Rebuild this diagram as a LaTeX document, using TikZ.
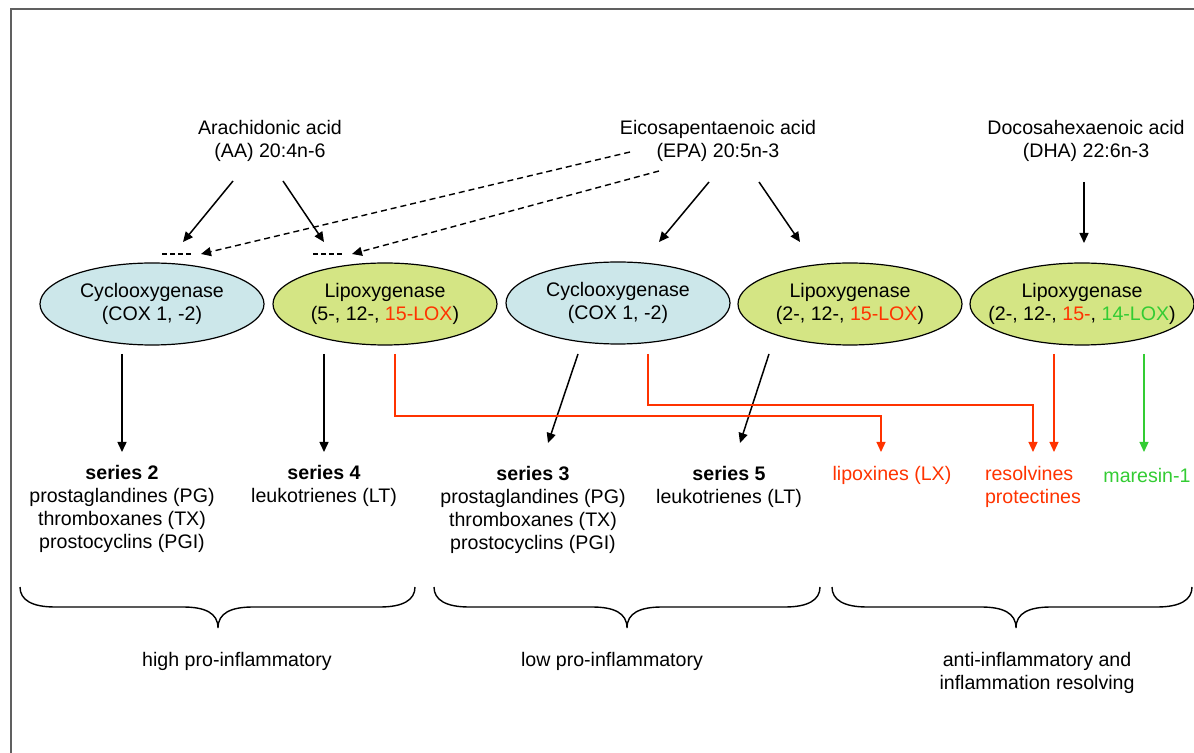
\documentclass[tikz,border=0pt]{standalone}
\usepackage{fontspec}
\setmainfont{Liberation Sans}
\usetikzlibrary{shapes.geometric,arrows.meta}
\definecolor{coxfill}{RGB}{204,231,234}
\definecolor{loxfill}{RGB}{212,229,132}
\definecolor{redx}{RGB}{255,51,0}
\definecolor{greenx}{RGB}{51,204,51}
\definecolor{framegray}{RGB}{96,96,96}
\begin{document}
\begin{tikzpicture}[x=0.5pt,y=-0.5pt,
  font=\fontsize{9.8}{11.5}\selectfont,
  txt/.style={align=center,inner sep=0pt},
  enz/.style={ellipse,draw=black,line width=0.6pt,minimum width=112pt,minimum height=41pt,inner sep=0pt,align=center},
  cox/.style={enz,fill=coxfill},
  lox/.style={enz,fill=loxfill},
  tip/.style={-{Triangle[length=5pt,width=4.5pt]}},
  blk/.style={line width=0.75pt,tip},
  dsh/.style={line width=0.7pt,dash pattern=on 3pt off 2pt,tip},
  stub/.style={line width=0.7pt,dash pattern=on 2.5pt off 1.5pt},
  rline/.style={redx,line width=0.6pt,tip},
  gline/.style={greenx,line width=0.6pt,tip},
  bracepath/.style={line width=0.7pt},
]
\useasboundingbox (0,0) rectangle (1194,753);
\draw[framegray,line width=1pt] (1194,9.5) -- (10.5,9.5) -- (10.5,753);

% sources
\node[txt] (aa) at (270,141) {Arachidonic acid\\(AA) 20:4n-6};
\node[txt] (epa) at (718,141) {Eicosapentaenoic acid\\(EPA) 20:5n-3};
\node[txt] (dha) at (1086,141) {Docosahexaenoic acid\\(DHA) 22:6n-3};

% enzymes
\node[cox] (cox1) at (152,304) {Cyclooxygenase\\(COX 1, -2)};
\node[lox] (lox1) at (385,304) {Lipoxygenase\\(5-, 12-, \textcolor{redx}{15-LOX})};
\node[cox] (cox2) at (618,303) {Cyclooxygenase\\(COX 1, -2)};
\node[lox] (lox2) at (850,304) {Lipoxygenase\\(2-, 12-, \textcolor{redx}{15-LOX})};
\node[lox] (lox3) at (1082,304) {Lipoxygenase\\\makebox[0pt]{(2-, 12-, \textcolor{redx}{15-}, \textcolor{greenx}{14-LOX})}};

% products
\node[txt] (s2) at (122,509) {\textbf{series 2}\\prostaglandines (PG)\\thromboxanes (TX)\\prostocyclins (PGI)};
\node[txt] (s4) at (324,486) {\textbf{series 4}\\leukotrienes (LT)};
\node[txt] (s3) at (533,510) {\textbf{series 3}\\prostaglandines (PG)\\thromboxanes (TX)\\prostocyclins (PGI)};
\node[txt] (s5) at (729,487) {\textbf{series 5}\\leukotrienes (LT)};
\node[txt,text=redx] (lx) at (892,475) {lipoxines (LX)};
\node[txt,text=redx,align=left] (rv) at (1033,487) {resolvines\\protectines};
\node[txt,text=greenx] (mar) at (1147,475) {maresin-1};

% coordinates
\coordinate (aaL0) at (233,181); \coordinate (aaL1) at (183,242);
\coordinate (aaR0) at (283,181); \coordinate (aaR1) at (324,242);
\coordinate (epL0) at (709,182); \coordinate (epL1) at (659,242);
\coordinate (epR0) at (759,182); \coordinate (epR1) at (800,242);
\coordinate (dh0) at (1084,182); \coordinate (dh1) at (1084,243);
\coordinate (st1a) at (162,254); \coordinate (st1b) at (194,254);
\coordinate (st2a) at (313,254); \coordinate (st2b) at (345,254);
\coordinate (ep1) at (630,152); \coordinate (ep1e) at (201,254);
\coordinate (ep2) at (659,171); \coordinate (ep2e) at (352,254);

% arrows to enzymes
\draw[blk] (aaL0) -- (aaL1);
\draw[blk] (aaR0) -- (aaR1);
\draw[blk] (epL0) -- (epL1);
\draw[blk] (epR0) -- (epR1);
\draw[blk] (dh0) -- (dh1);
\draw[stub] (st1a) -- (st1b);
\draw[stub] (st2a) -- (st2b);
\draw[dsh] (ep1) -- (ep1e);
\draw[dsh] (ep2) -- (ep2e);

% arrows to products
\coordinate (c1a) at (122,354); \coordinate (c1b) at (122,452);
\coordinate (l1a) at (324,354); \coordinate (l1b) at (324,452);
\coordinate (c2a) at (578,354); \coordinate (c2b) at (548,443);
\coordinate (l2a) at (769,354); \coordinate (l2b) at (740,443);
\draw[blk] (c1a) -- (c1b);
\draw[blk] (l1a) -- (l1b);
\draw[blk] (c2a) -- (c2b);
\draw[blk] (l2a) -- (l2b);

\coordinate (r1a) at (395,354); \coordinate (r1b) at (881,452);
\coordinate (r2a) at (648,354); \coordinate (r2b) at (1033,452);
\coordinate (r3a) at (1054,354); \coordinate (r3b) at (1054,452);
\coordinate (g1a) at (1144,354); \coordinate (g1b) at (1144,452);
\draw[rline] (r1a) -- ++(0,62) -| (r1b);
\draw[rline] (r2a) -- ++(0,51) -| (r2b);
\draw[rline] (r3a) -- (r3b);
\draw[gline] (g1a) -- (g1b);

% braces
\draw[bracepath] (20,587) .. controls (20,600) and (32,607) .. (55,607) -- (183,607) .. controls (205,607) and (218,613) .. (218,628) .. controls (218,613) and (231,607) .. (253,607) -- (380,607) .. controls (403,607) and (415,600) .. (415,587);
\draw[bracepath] (434,587) .. controls (434,600) and (446,607) .. (469,607) -- (592,607) .. controls (614,607) and (627,613) .. (627,628) .. controls (627,613) and (640,607) .. (662,607) -- (785,607) .. controls (808,607) and (820,600) .. (820,587);
\draw[bracepath] (832,587) .. controls (832,600) and (844,607) .. (867,607) -- (981,607) .. controls (1003,607) and (1016,613) .. (1016,628) .. controls (1016,613) and (1029,607) .. (1051,607) -- (1157,607) .. controls (1180,607) and (1192,600) .. (1192,587);

\node[txt] (hi) at (237,661) {high pro-inflammatory};
\node[txt] (lo) at (612,661) {low pro-inflammatory};
\node[txt] (anti) at (1037,673) {anti-inflammatory and\\inflammation resolving};
\end{tikzpicture}
\end{document}
